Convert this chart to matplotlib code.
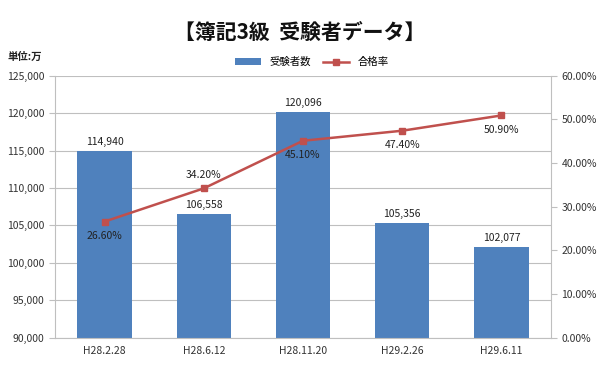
import matplotlib
matplotlib.use("Agg")
import matplotlib.pyplot as plt
from matplotlib.ticker import FuncFormatter, MultipleLocator

plt.rcParams['font.family'] = ['Noto Sans CJK JP', 'DejaVu Sans']

categories = ["H28.2.28", "H28.6.12", "H28.11.20", "H29.2.26", "H29.6.11"]
examinees = [114940, 106558, 120096, 105356, 102077]
pass_rate = [26.6, 34.2, 45.1, 47.4, 50.9]
rate_label_pos = ["below", "above", "below", "below", "below"]

bar_color = "#4F81BD"
line_color = "#C0504D"

fig = plt.figure(figsize=(6.0, 3.89), dpi=100)
ax = fig.add_axes([55/600, 1-337.7/389, (551-55)/600, (337.7-75.7)/389])
x = list(range(len(categories)))
bars = ax.bar(x, examinees, width=0.55, color=bar_color, zorder=2, label="受験者数")
ax.set_ylim(90000, 125000)
ax.set_xlim(-0.5, len(categories)-0.5)
ax.yaxis.set_major_locator(MultipleLocator(5000))
ax.yaxis.set_major_formatter(FuncFormatter(lambda v, p: f"{int(v):,}"))
ax.grid(axis='y', color="#BFBFBF", linewidth=0.8, zorder=0)
ax.set_xticks(x)
ax.set_xticklabels(categories)
ax.tick_params(axis='x', length=0, labelsize=7.5, colors="#333333", pad=6)
ax.tick_params(axis='y', length=4, color="#BFBFBF", labelsize=7.5, colors="#333333")
for s in ["top", "right"]:
    ax.spines[s].set_visible(False)
for s in ["left", "bottom"]:
    ax.spines[s].set_color("#BFBFBF")

for xi, v in zip(x, examinees):
    ax.annotate(f"{v:,}", (xi, v), xytext=(0, 3), textcoords="offset points",
                ha="center", va="bottom", fontsize=7.5, color="#222222")

ax2 = ax.twinx()
ax2.plot(x, pass_rate, color=line_color, marker="s", markersize=5, linewidth=1.8, label="合格率", zorder=3)
ax2.set_ylim(0, 60)
ax2.yaxis.set_major_locator(MultipleLocator(10))
ax2.yaxis.set_major_formatter(FuncFormatter(lambda v, p: f"{v:.2f}%"))
ax2.tick_params(axis='y', length=4, color="#BFBFBF", labelsize=7.5, colors="#333333")
for s in ["top", "left", "bottom"]:
    ax2.spines[s].set_visible(False)
ax2.spines["right"].set_color("#BFBFBF")

for xi, v, pos in zip(x, pass_rate, rate_label_pos):
    if pos == "above":
        ax2.annotate(f"{v:.2f}%", (xi, v), xytext=(0, 6), textcoords="offset points",
                     ha="center", va="bottom", fontsize=7.5, color="#222222")
    else:
        ax2.annotate(f"{v:.2f}%", (xi, v), xytext=(0, -7), textcoords="offset points",
                     ha="center", va="top", fontsize=7.5, color="#222222")

fig.text(0.5, 1-32/389, "【簿記3級  受験者データ】", ha="center", va="center",
         fontsize=15, fontweight="bold", color="#111111")
fig.text(8/600, 1-57/389, "単位:万", ha="left", va="center", fontsize=7.5,
         fontweight="bold", color="#222222")

h1, l1 = ax.get_legend_handles_labels()
h2, l2 = ax2.get_legend_handles_labels()
fig.legend(h1 + h2, l1 + l2, loc="center", bbox_to_anchor=(0.52, 1-62/389), ncol=2,
           frameon=False, fontsize=7.5, handlelength=2.5, columnspacing=1.2,
           handleheight=0.6)

fig.savefig("out.png", dpi=100)
